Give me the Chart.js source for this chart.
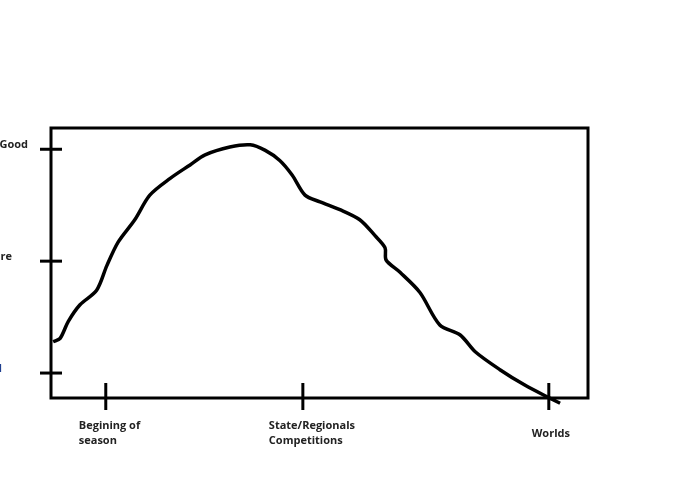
<!DOCTYPE html>
<html>
<head>
<meta charset="utf-8">
<script src="https://cdn.jsdelivr.net/npm/chart.js@4/dist/chart.umd.min.js"></script>
<style>
body { margin: 0; background: #fff; }
#wrap { width: 690px; height: 500px; }
</style>
</head>
<body>
<div id="wrap"><canvas id="c"></canvas></div>
<script>
// season progress (0..100) and performance level (1 = bad, 3 = good)
const progress = [0.4, 1.7, 3.2, 5.4, 8.5, 10.4, 12.5, 15.6, 18.4, 22.2, 25.9, 28.7, 33.3, 37.1, 39.9, 42.6, 44.9, 47.3, 50.1, 53.8, 57.5, 60.3, 62.2, 62.4, 65.0, 68.7, 72.4, 76.2, 79.0, 83.6, 88.3, 92.7, 94.8];
const level = [1.28, 1.31, 1.46, 1.61, 1.74, 1.96, 2.17, 2.37, 2.59, 2.74, 2.86, 2.95, 3.02, 3.04, 2.99, 2.90, 2.77, 2.59, 2.53, 2.46, 2.37, 2.23, 2.12, 2.01, 1.90, 1.72, 1.43, 1.34, 1.19, 1.03, 0.89, 0.78, 0.73];

const xTicks = [10.2, 46.9, 92.7];
const xLabels = [['Begining of', 'season'], ['State/Regionals', 'Competitions'], ['Worlds']];
const yTicks = [3, 2, 1];
const yLabels = ['Good', 'Mediocre', 'Bad'];

const points = progress.map((p, i) => ({ x: p, y: level[i] }));

const sketchAxes = {
    id: 'sketchAxes',
    afterDraw(chart) {
        const ctx = chart.ctx;
        const a = chart.chartArea;
        const xs = chart.scales.x, ys = chart.scales.y;
        ctx.save();
        ctx.strokeStyle = '#000';
        ctx.lineWidth = 3;
        ctx.strokeRect(a.left, a.top, a.right - a.left, a.bottom - a.top);

        // y ticks + labels (clipped at the left edge like the original)
        ctx.font = 'bold 11px "Open Sans"';
        ctx.textBaseline = 'middle';
        ctx.textAlign = 'right';
        const labelRight = [28, 12, 2];
        yTicks.forEach((t, i) => {
            const y = ys.getPixelForValue(t);
            ctx.beginPath();
            ctx.moveTo(a.left - 11, y);
            ctx.lineTo(a.left + 11, y);
            ctx.stroke();
            ctx.fillStyle = i === 2 ? '#1f3f8f' : '#222';
            ctx.fillText(yLabels[i], labelRight[i], y - 4);
        });

        // x ticks + labels
        ctx.textBaseline = 'top';
        xTicks.forEach((t, i) => {
            const x = xs.getPixelForValue(t);
            ctx.beginPath();
            ctx.moveTo(x, a.bottom - 15);
            ctx.lineTo(x, a.bottom + 12);
            ctx.stroke();
            ctx.fillStyle = '#222';
            const lines = xLabels[i];
            if (lines.length === 1) {
                ctx.textAlign = 'center';
                ctx.fillText(lines[0], x + 2, a.bottom + 30);
            } else {
                ctx.textAlign = 'left';
                lines.forEach((s, j) => ctx.fillText(s, x - 27 + (i === 1 ? -7 : 0), a.bottom + 22 + j * 15));
            }
        });
        ctx.restore();
    }
};

new Chart(document.getElementById('c'), {
    type: 'scatter',
    data: {
        datasets: [{
            data: points,
            showLine: true,
            borderColor: '#000',
            borderWidth: 3.5,
            pointRadius: 0,
            tension: 0.3,
            clip: false
        }]
    },
    options: {
        responsive: true,
        maintainAspectRatio: false,
        animation: false,
        layout: { padding: { left: 51, right: 102, top: 128, bottom: 102 } },
        plugins: { legend: { display: false }, tooltip: { enabled: false } },
        scales: {
            x: { type: 'linear', min: 0, max: 100, display: false },
            y: { type: 'linear', min: 0.777, max: 3.19, display: false }
        }
    },
    plugins: [sketchAxes]
});
</script>
</body>
</html>
